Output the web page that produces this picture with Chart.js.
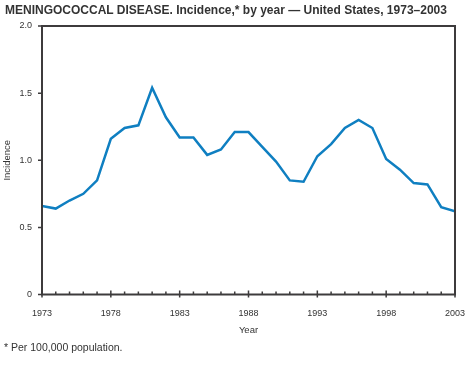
<!DOCTYPE html>
<html>
<head>
<meta charset="utf-8">
<script src="https://cdn.jsdelivr.net/npm/chart.js@4.4.0/dist/chart.umd.min.js"></script>
<style>
  body { margin: 0; background: #fff; }
  #wrap { position: relative; width: 472px; height: 366px; }
  #title { position: absolute; left: 5px; top: 3px; font: bold 12px "Liberation Sans", Arial, sans-serif; color: #333; white-space: nowrap; }
  #note { position: absolute; left: 4px; top: 341px; font: 10.5px "Liberation Sans", Arial, sans-serif; color: #333; white-space: nowrap; }
  canvas { position: absolute; left: 0; top: 0; }
</style>
</head>
<body>
<div id="wrap">
  <canvas id="myChart" width="472" height="366"></canvas>
  <div id="title">MENINGOCOCCAL DISEASE. Incidence,* by year — United States, 1973–2003</div>
  <div id="note">* Per 100,000 population.</div>
</div>
<script>
// data
const years = [1973, 1974, 1975, 1976, 1977, 1978, 1979, 1980, 1981, 1982,
    1983, 1984, 1985, 1986, 1987, 1988, 1989, 1990, 1991, 1992,
    1993, 1994, 1995, 1996, 1997, 1998, 1999, 2000, 2001, 2002, 2003]
const incidence = [0.66, 0.64, 0.70, 0.75, 0.85, 1.16, 1.24, 1.26, 1.54, 1.32,
    1.17, 1.17, 1.04, 1.08, 1.21, 1.21, 1.10, 0.99, 0.85, 0.84,
    1.03, 1.12, 1.24, 1.30, 1.24, 1.01, 0.93, 0.83, 0.82, 0.65, 0.62]
const yTicks = [0, 0.5, 1.0, 1.5, 2.0]
const labelYears = [1973, 1978, 1983, 1988, 1993, 1998, 2003]

const axisColor = '#3d3b3c'
const font = { family: '"Liberation Sans", Arial, sans-serif', size: 9 }

// frame + small tick marks, placed with the chart's own scales
const framePlugin = {
    id: 'frame',
    afterDatasetsDraw(chart) {
        const { ctx, chartArea: a, scales } = chart
        ctx.save()
        ctx.strokeStyle = axisColor
        ctx.lineWidth = 2
        ctx.strokeRect(a.left, a.top, a.right - a.left, a.bottom - a.top)
        ctx.lineWidth = 1.5
        ctx.beginPath()
        yTicks.forEach(v => {
            const y = scales.y.getPixelForValue(v)
            ctx.moveTo(a.left - 4, y)
            ctx.lineTo(a.left, y)
        })
        years.forEach(yr => {
            const x = scales.x.getPixelForValue(yr)
            const major = labelYears.includes(yr)
            ctx.moveTo(x, a.bottom + (major ? 3 : 0))
            ctx.lineTo(x, a.bottom - (major ? 4 : 3))
        })
        ctx.stroke()
        ctx.restore()
    }
}

const ctx = document.getElementById('myChart')
const chart = new Chart(ctx, {
    type: 'line',
    data: {
        datasets: [{
            data: years.map((yr, i) => ({ x: yr, y: incidence[i] })),
            borderColor: '#0f7fc1',
            borderWidth: 2.5,
            pointRadius: 0,
            tension: 0,
            fill: false
        }]
    },
    options: {
        responsive: false,
        animation: false,
        layout: { padding: { top: 26, right: 17, bottom: 26, left: 0 } },
        plugins: {
            legend: { display: false },
            tooltip: { enabled: false }
        },
        scales: {
            x: {
                type: 'linear',
                min: 1973,
                max: 2003,
                afterBuildTicks: scale => {
                    scale.ticks = labelYears.map(v => ({ value: v }))
                },
                afterFit: scale => {
                    scale.height = 45.5
                    scale.paddingLeft = 0
                    scale.paddingRight = 0
                },
                grid: { display: false, drawTicks: false },
                border: { display: false },
                ticks: {
                    color: '#333',
                    font: font,
                    padding: 14,
                    maxRotation: 0,
                    autoSkip: false,
                    callback: v => String(v)
                },
                title: {
                    display: true,
                    text: 'Year',
                    color: '#333',
                    font: { family: font.family, size: 9.5 },
                    padding: { top: 0, bottom: 4 }
                }
            },
            y: {
                min: 0,
                max: 2,
                afterBuildTicks: scale => {
                    scale.ticks = yTicks.map(v => ({ value: v }))
                },
                afterFit: scale => {
                    scale.width = 42
                    scale.paddingTop = 0
                    scale.paddingBottom = 0
                },
                grid: { display: false, drawTicks: false },
                border: { display: false },
                ticks: {
                    color: '#333',
                    font: font,
                    padding: 10,
                    callback: v => v === 0 ? '0' : v.toFixed(1)
                },
                title: {
                    display: true,
                    text: 'Incidence',
                    color: '#333',
                    font: { family: font.family, size: 9.5 },
                    padding: { top: 2, bottom: 0 }
                }
            }
        }
    },
    plugins: [framePlugin]
})
</script>
</body>
</html>
